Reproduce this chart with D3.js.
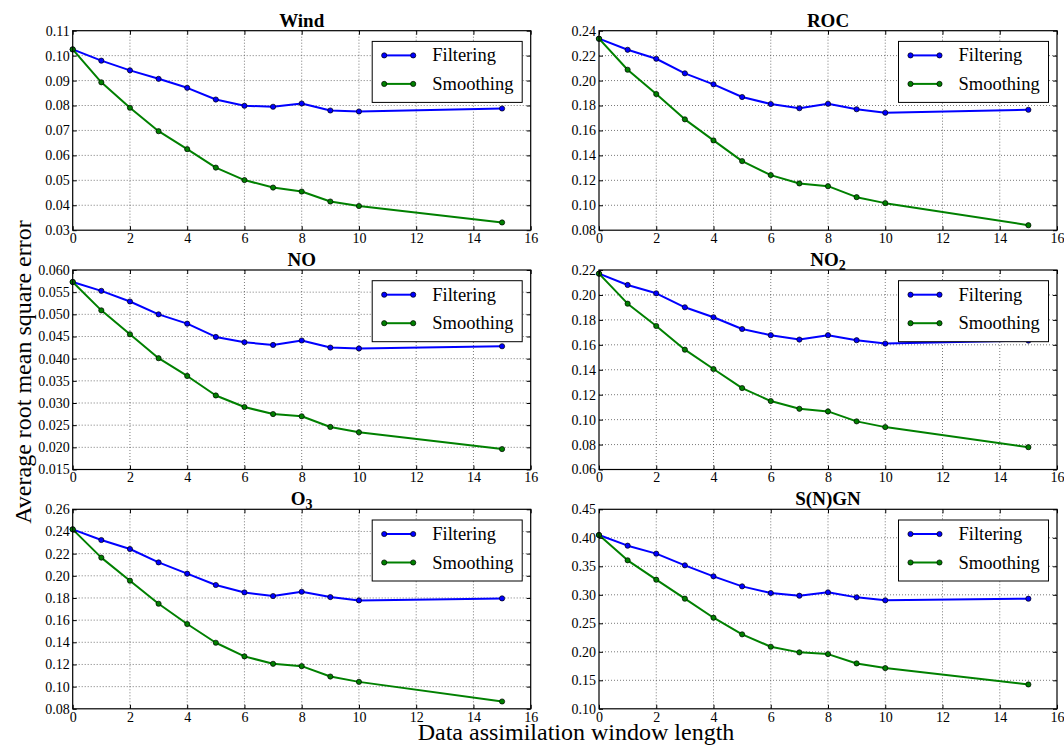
<!DOCTYPE html>
<html>
<head>
<meta charset="utf-8">
<script src="https://cdn.jsdelivr.net/npm/d3@7"></script>
<style>
  body { margin: 0; background: #fff; }
  svg { display: block; }
  text { font-family: "Liberation Serif", "Times New Roman", serif; fill: #000; }
</style>
</head>
<body>
<svg id="fig" width="1064" height="745"></svg>
<script>
// Window lengths at which each RMSE was evaluated
const windowLength = [0, 1, 2, 3, 4, 5, 6, 7, 8, 9, 10, 15];
const xTickLabels = ["0", "2", "4", "6", "8", "10", "12", "14", "16"];
const seriesNames = ["Filtering", "Smoothing"];

// Average RMSE per species, filtering vs smoothing
const windFiltering = [0.1025, 0.0980, 0.0941, 0.0907, 0.0871, 0.0824, 0.0799, 0.0795, 0.0808, 0.0780, 0.0776, 0.0788];
const windSmoothing = [0.1025, 0.0893, 0.0791, 0.0697, 0.0625, 0.0551, 0.0501, 0.0471, 0.0455, 0.0415, 0.0397, 0.0331];
const windTicks = ["0.03", "0.04", "0.05", "0.06", "0.07", "0.08", "0.09", "0.10", "0.11"];

const rocFiltering = [0.2336, 0.2247, 0.2175, 0.2058, 0.1970, 0.1868, 0.1812, 0.1778, 0.1814, 0.1770, 0.1742, 0.1766];
const rocSmoothing = [0.2336, 0.2087, 0.1892, 0.1689, 0.1520, 0.1354, 0.1242, 0.1175, 0.1153, 0.1065, 0.1017, 0.0840];
const rocTicks = ["0.08", "0.10", "0.12", "0.14", "0.16", "0.18", "0.20", "0.22", "0.24"];

const noFiltering = [0.0573, 0.0553, 0.0529, 0.0500, 0.0479, 0.0449, 0.0437, 0.0431, 0.0441, 0.0425, 0.0423, 0.0428];
const noSmoothing = [0.0573, 0.0509, 0.0455, 0.0401, 0.0361, 0.0317, 0.0291, 0.0275, 0.0270, 0.0246, 0.0234, 0.0196];
const noTicks = ["0.015", "0.020", "0.025", "0.030", "0.035", "0.040", "0.045", "0.050", "0.055", "0.060"];

const no2Filtering = [0.2171, 0.2080, 0.2013, 0.1901, 0.1821, 0.1727, 0.1677, 0.1642, 0.1677, 0.1637, 0.1610, 0.1634];
const no2Smoothing = [0.2171, 0.1930, 0.1751, 0.1561, 0.1406, 0.1253, 0.1149, 0.1087, 0.1066, 0.0986, 0.0940, 0.0779];
const no2Ticks = ["0.06", "0.08", "0.10", "0.12", "0.14", "0.16", "0.18", "0.20", "0.22"];

const o3Filtering = [0.2419, 0.2323, 0.2242, 0.2121, 0.2019, 0.1917, 0.1850, 0.1817, 0.1856, 0.1808, 0.1778, 0.1796];
const o3Smoothing = [0.2419, 0.2164, 0.1956, 0.1748, 0.1565, 0.1396, 0.1273, 0.1206, 0.1185, 0.1091, 0.1043, 0.0866];
const o3Ticks = ["0.08", "0.10", "0.12", "0.14", "0.16", "0.18", "0.20", "0.22", "0.24", "0.26"];

const sngnFiltering = [0.4049, 0.3862, 0.3722, 0.3517, 0.3324, 0.3148, 0.3031, 0.2984, 0.3043, 0.2955, 0.2903, 0.2932];
const sngnSmoothing = [0.4049, 0.3605, 0.3265, 0.2932, 0.2598, 0.2306, 0.2089, 0.1990, 0.1960, 0.1796, 0.1714, 0.1427];
const sngnTicks = ["0.10", "0.15", "0.20", "0.25", "0.30", "0.35", "0.40", "0.45"];

// Panel title as [main text, subscript]
const panels = [
  { title: ["Wind", ""],   filtering: windFiltering, smoothing: windSmoothing, ticks: windTicks },
  { title: ["ROC", ""],    filtering: rocFiltering,  smoothing: rocSmoothing,  ticks: rocTicks },
  { title: ["NO", ""],     filtering: noFiltering,   smoothing: noSmoothing,   ticks: noTicks },
  { title: ["NO", "2"],    filtering: no2Filtering,  smoothing: no2Smoothing,  ticks: no2Ticks },
  { title: ["O", "3"],     filtering: o3Filtering,   smoothing: o3Smoothing,   ticks: o3Ticks },
  { title: ["S(N)GN", ""], filtering: sngnFiltering, smoothing: sngnSmoothing, ticks: sngnTicks }
];

const colors = { Filtering: "#0000ff", Smoothing: "#008000" };

// Subplot grid geometry
const colLeft = [72.7, 599];
const rowTop = [30.7, 270, 509.3];
const plotW = 458;
const plotH = 199.5;

const svg = d3.select("#fig");

panels.forEach((p, i) => {
  const left = colLeft[i % 2];
  const top = rowTop[Math.floor(i / 2)];
  const g = svg.append("g").attr("transform", `translate(${left},${top})`);

  const yVals = p.ticks.map(Number);
  const x = d3.scaleLinear().domain([0, 16]).range([0, plotW]);
  const y = d3.scaleLinear().domain([yVals[0], yVals[yVals.length - 1]]).range([plotH, 0]);
  const xVals = xTickLabels.map(Number);

  // dotted grid
  const grid = g.append("g").attr("stroke", "#000").attr("stroke-width", 0.7)
    .attr("stroke-dasharray", "1,2").attr("opacity", 0.75);
  grid.selectAll("line.gx").data(xVals.slice(1, -1)).join("line")
    .attr("x1", d => x(d)).attr("x2", d => x(d)).attr("y1", 0).attr("y2", plotH);
  grid.selectAll("line.gy").data(yVals.slice(1, -1)).join("line")
    .attr("y1", d => y(d)).attr("y2", d => y(d)).attr("x1", 0).attr("x2", plotW);

  // series lines + markers
  seriesNames.forEach(name => {
    const vals = name === "Filtering" ? p.filtering : p.smoothing;
    const pts = windowLength.map((w, k) => [w, vals[k]]);
    g.append("path").datum(pts)
      .attr("fill", "none").attr("stroke", colors[name]).attr("stroke-width", 2)
      .attr("stroke-linejoin", "round")
      .attr("d", d3.line().x(d => x(d[0])).y(d => y(d[1])));
    g.append("g").selectAll("circle").data(pts).join("circle")
      .attr("cx", d => x(d[0])).attr("cy", d => y(d[1])).attr("r", 2.6)
      .attr("fill", colors[name]).attr("stroke", "#000").attr("stroke-width", 0.7);
  });

  // axes with inward ticks on all four sides
  const fmtY = (d) => p.ticks[yVals.indexOf(d)];
  const axL = g.append("g").call(d3.axisLeft(y).tickValues(yVals).tickFormat(fmtY)
    .tickSizeInner(-4).tickSizeOuter(0).tickPadding(3));
  const axB = g.append("g").attr("transform", `translate(0,${plotH})`)
    .call(d3.axisBottom(x).tickValues(xVals).tickFormat((d, k) => xTickLabels[k])
      .tickSizeInner(-4).tickSizeOuter(0).tickPadding(3));
  const axR = g.append("g").attr("transform", `translate(${plotW},0)`)
    .call(d3.axisRight(y).tickValues(yVals).tickFormat("").tickSizeInner(-4).tickSizeOuter(0));
  const axT = g.append("g")
    .call(d3.axisTop(x).tickValues(xVals).tickFormat("").tickSizeInner(-4).tickSizeOuter(0));
  [axL, axB, axR, axT].forEach(a => {
    a.attr("font-family", null).attr("font-size", null);
    a.select(".domain").remove();
    a.selectAll(".tick line").attr("stroke", "#000").attr("stroke-width", 1);
    a.selectAll("text").style("font-size", "14px").attr("fill", "#333");
  });

  // frame
  g.append("rect").attr("width", plotW).attr("height", plotH)
    .attr("fill", "none").attr("stroke", "#000").attr("stroke-width", 1.2);

  // title
  const t = g.append("text").attr("x", plotW / 2).attr("y", -4)
    .attr("text-anchor", "middle").style("font-size", "19px").style("font-weight", "bold")
    .text(p.title[0]);
  if (p.title[1]) {
    t.append("tspan").attr("dy", 4).style("font-size", "14px").text(p.title[1]);
  }

  // legend
  const lw = 150, lh = 61;
  const lg = g.append("g").attr("transform", `translate(${plotW - 8.5 - lw},${10.7})`);
  lg.append("rect").attr("width", lw).attr("height", lh)
    .attr("fill", "#fff").attr("stroke", "#000").attr("stroke-width", 1);
  seriesNames.forEach((name, k) => {
    const ry = 14 + k * 28.5;
    lg.append("line").attr("x1", 12).attr("x2", 41).attr("y1", ry).attr("y2", ry)
      .attr("stroke", colors[name]).attr("stroke-width", 2);
    [12, 41].forEach(cx => lg.append("circle").attr("cx", cx).attr("cy", ry).attr("r", 2.6)
      .attr("fill", colors[name]).attr("stroke", "#000").attr("stroke-width", 0.7));
    lg.append("text").attr("x", 60).attr("y", ry + 6).style("font-size", "18.5px")
      .attr("fill", "#222").text(name);
  });
});

// shared axis labels
svg.append("text").attr("x", 576).attr("y", 740).attr("text-anchor", "middle")
  .style("font-size", "24px").attr("fill", "#222").text("Data assimilation window length");
svg.append("text").attr("transform", "translate(31,372) rotate(-90)").attr("text-anchor", "middle")
  .style("font-size", "24px").attr("fill", "#222").text("Average root mean square error");
</script>
</body>
</html>
